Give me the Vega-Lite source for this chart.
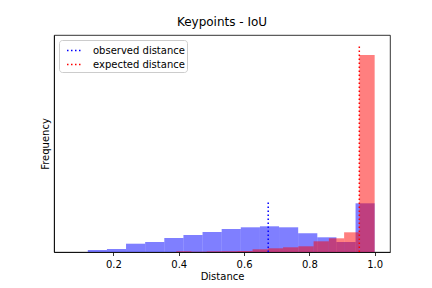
{
  "$schema": "https://vega.github.io/schema/vega-lite/v6.json",
  "width": 336,
  "height": 217,
  "autosize": {"type": "none"},
  "padding": {"left": 54, "top": 35, "right": 42, "bottom": 36},
  "background": "white",
  "title": {"text": "Keypoints - IoU", "fontSize": 12, "font": "DejaVu Sans", "fontWeight": "normal", "color": "black", "offset": 6},
  "config": {
    "view": {"stroke": "black", "strokeWidth": 0.8},
    "axis": {
      "grid": false, "domainColor": "black", "domainWidth": 0.8,
      "tickColor": "black", "tickWidth": 0.8, "tickSize": 3.5,
      "labelFont": "DejaVu Sans", "labelFontSize": 10, "labelColor": "black",
      "titleFont": "DejaVu Sans", "titleFontSize": 10, "titleFontWeight": "normal", "titleColor": "black"
    },
    "legend": {
      "orient": "top-left", "offset": 5, "padding": 2, "symbolOffset": 5,
      "fillColor": "rgba(255,255,255,0.8)", "strokeColor": "#cccccc", "cornerRadius": 3,
      "labelFont": "DejaVu Sans", "labelFontSize": 10, "labelColor": "black", "labelOffset": 10, "labelLimit": 200,
      "symbolType": "stroke", "symbolSize": 225, "symbolStrokeWidth": 1.5, "symbolDash": [1.5, 2.5],
      "rowPadding": 0, "title": null
    }
  },
  "datasets": {
    "observed": [
      {"bin_start": 0.1215, "bin_end": 0.1801, "frequency": 0.2},
      {"bin_start": 0.1801, "bin_end": 0.2386, "frequency": 0.3},
      {"bin_start": 0.2386, "bin_end": 0.2972, "frequency": 0.83},
      {"bin_start": 0.2972, "bin_end": 0.3558, "frequency": 1.0},
      {"bin_start": 0.3558, "bin_end": 0.4144, "frequency": 1.4},
      {"bin_start": 0.4144, "bin_end": 0.4729, "frequency": 1.7},
      {"bin_start": 0.4729, "bin_end": 0.5315, "frequency": 2.0},
      {"bin_start": 0.5315, "bin_end": 0.5901, "frequency": 2.3},
      {"bin_start": 0.5901, "bin_end": 0.6487, "frequency": 2.47},
      {"bin_start": 0.6487, "bin_end": 0.7072, "frequency": 2.57},
      {"bin_start": 0.7072, "bin_end": 0.7658, "frequency": 2.47},
      {"bin_start": 0.7658, "bin_end": 0.8244, "frequency": 1.87},
      {"bin_start": 0.8244, "bin_end": 0.8829, "frequency": 1.47},
      {"bin_start": 0.8829, "bin_end": 0.9415, "frequency": 1.0},
      {"bin_start": 0.9415, "bin_end": 1.0, "frequency": 4.87}
    ],
    "expected": [
      {"bin_start": 0.065, "bin_end": 0.1118, "frequency": 0},
      {"bin_start": 0.1118, "bin_end": 0.1585, "frequency": 0},
      {"bin_start": 0.1585, "bin_end": 0.2053, "frequency": 0},
      {"bin_start": 0.2053, "bin_end": 0.252, "frequency": 0},
      {"bin_start": 0.252, "bin_end": 0.2988, "frequency": 0},
      {"bin_start": 0.2988, "bin_end": 0.3455, "frequency": 0},
      {"bin_start": 0.3455, "bin_end": 0.3923, "frequency": 0},
      {"bin_start": 0.3923, "bin_end": 0.439, "frequency": 0.07},
      {"bin_start": 0.439, "bin_end": 0.4858, "frequency": 0.03},
      {"bin_start": 0.4858, "bin_end": 0.5325, "frequency": 0.07},
      {"bin_start": 0.5325, "bin_end": 0.5793, "frequency": 0.08},
      {"bin_start": 0.5793, "bin_end": 0.626, "frequency": 0.1},
      {"bin_start": 0.626, "bin_end": 0.6728, "frequency": 0.27},
      {"bin_start": 0.6728, "bin_end": 0.7195, "frequency": 0.37},
      {"bin_start": 0.7195, "bin_end": 0.7663, "frequency": 0.47},
      {"bin_start": 0.7663, "bin_end": 0.813, "frequency": 0.57},
      {"bin_start": 0.813, "bin_end": 0.8598, "frequency": 1.07},
      {"bin_start": 0.8598, "bin_end": 0.9065, "frequency": 1.37},
      {"bin_start": 0.9065, "bin_end": 0.9533, "frequency": 1.97},
      {"bin_start": 0.9533, "bin_end": 1.0, "frequency": 19.7}
    ],
    "lines": [
      {"series": "observed distance", "distance": 0.674, "y0": 0, "y1": 5.17},
      {"series": "expected distance", "distance": 0.953, "y0": 0, "y1": 20.67}
    ]
  },
  "layer": [
    {
      "data": {"name": "observed"},
      "mark": {"type": "bar", "color": "blue", "opacity": 0.5},
      "encoding": {
        "x": {"field": "bin_start", "type": "quantitative",
              "scale": {"domain": [0.018, 1.047], "nice": false, "zero": false},
              "axis": {"values": [0.2, 0.4, 0.6, 0.8, 1.0], "format": ".1f", "title": "Distance", "labelPadding": 3.5, "titlePadding": 2}},
        "x2": {"field": "bin_end"},
        "y": {"field": "frequency", "type": "quantitative",
              "scale": {"domain": [0, 21.7], "nice": false},
              "axis": {"ticks": false, "labels": false, "title": "Frequency", "titlePadding": 4}},
        "y2": {"datum": 0}
      }
    },
    {
      "data": {"name": "expected"},
      "mark": {"type": "bar", "color": "red", "opacity": 0.5},
      "encoding": {
        "x": {"field": "bin_start", "type": "quantitative"},
        "x2": {"field": "bin_end"},
        "y": {"field": "frequency", "type": "quantitative"},
        "y2": {"datum": 0}
      }
    },
    {
      "data": {"name": "lines"},
      "mark": {"type": "rule", "strokeWidth": 1.5, "strokeDash": [1.5, 2.5]},
      "encoding": {
        "x": {"field": "distance", "type": "quantitative"},
        "y": {"field": "y0", "type": "quantitative"},
        "y2": {"field": "y1"},
        "color": {"field": "series", "type": "nominal",
                  "scale": {"domain": ["observed distance", "expected distance"], "range": ["blue", "red"]},
                  "legend": {"title": null}}
      }
    }
  ]
}
